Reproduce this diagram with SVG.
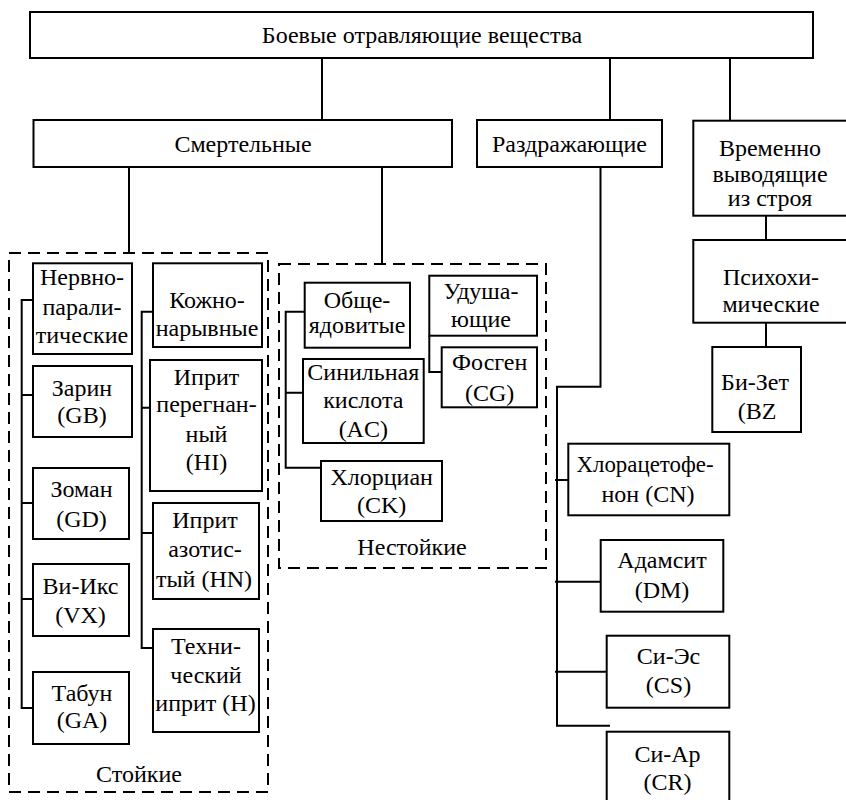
<svg xmlns="http://www.w3.org/2000/svg" width="846" height="800" viewBox="0 0 846 800" font-family="Liberation Serif, serif" font-size="24" text-anchor="middle">
<style>
.b{fill:#fff;stroke:#000;stroke-width:2}
.d{fill:none;stroke:#000;stroke-width:2;stroke-dasharray:12,7}
.c{fill:none;stroke:#000;stroke-width:2}
text{font-family:"Liberation Serif","Times New Roman",serif;fill:#000}
</style>
<rect width="846" height="800" fill="#fff"/>
<g id="groups">
<rect id="stoykie" class="d" x="9" y="253" width="259" height="539"/>
<text x="139" y="782">Стойкие</text>
<rect id="nestoykie" class="d" x="279" y="264" width="267" height="304"/>
<text x="412" y="555">Нестойкие</text>
</g>
<g id="connectors">
<path class="c" d="M322 58V120M610 58V120M730 58V120M129 167V253M382 167V264"/>
<path class="c" d="M600.5 167V386.7H557V725.7H610M555 480H568.3M555 581.7H600.7M555 671.7H606.7"/>
<path class="c" d="M766 215.7V240M766 322.7V347"/>
<path class="c" d="M33 300H21.7V708H33M21.7 395H33M21.7 503H33M21.7 599H33"/>
<path class="c" d="M153 311.7H141.7V648H153M141.7 407.7H150M141.7 533H153"/>
<path class="c" d="M304.7 311.7H285.7V467.7H321M285.7 392.7H303"/>
<path class="c" d="M429.3 335.7V372H441.7"/>
</g>
<g id="n-top"><rect class="b" x="30" y="12" width="783" height="46"/><text x="422" y="43">Боевые отравляющие вещества</text></g>
<g id="n-smert"><rect class="b" x="33.5" y="120" width="418.5" height="47"/><text x="243" y="152">Смертельные</text></g>
<g id="n-razdr"><rect class="b" x="477" y="120" width="185" height="47"/><text x="569.5" y="152">Раздражающие</text></g>
<g id="n-vrem"><rect class="b" x="693.3" y="120.7" width="154" height="95"/><text x="770" y="156">Временно</text><text x="770" y="181.5">выводящие</text><text x="770" y="206">из строя</text></g>
<g id="n-psih"><rect class="b" x="693.3" y="240" width="154" height="82.7"/><text x="771" y="285">Психохи-</text><text x="771" y="311.7">мические</text></g>
<g id="n-bz"><rect class="b" x="712.3" y="347" width="88.7" height="85"/><text x="755" y="390">Би-Зет</text><text x="757" y="419">(BZ</text></g>
<g id="n-nerv"><rect class="b" x="33" y="263.3" width="99" height="90.7"/><text x="82" y="285">Нервно-</text><text x="82" y="315">парали-</text><text x="82" y="343.3">тические</text></g>
<g id="n-zarin"><rect class="b" x="33" y="366" width="99" height="71"/><text x="82" y="395.7">Зарин</text><text x="82" y="423.3">(GB)</text></g>
<g id="n-zoman"><rect class="b" x="33" y="468" width="96" height="71"/><text x="81.5" y="496.7">Зоман</text><text x="81.5" y="526.7">(GD)</text></g>
<g id="n-vx"><rect class="b" x="33" y="564" width="96" height="72"/><text x="80.5" y="594.3">Ви-Икс</text><text x="80.5" y="623.3">(VX)</text></g>
<g id="n-tabun"><rect class="b" x="33" y="672" width="96" height="72"/><text x="82" y="701">Табун</text><text x="82" y="728.3">(GA)</text></g>
<g id="n-kozh"><rect class="b" x="153" y="263.3" width="109" height="83.7"/><text x="207" y="307.7">Кожно-</text><text x="207" y="336">нарывные</text></g>
<g id="n-hi"><rect class="b" x="150" y="360" width="112" height="131"/><text x="206.5" y="385">Иприт</text><text x="206.5" y="411.7">перегнан-</text><text x="206.5" y="441.7">ный</text><text x="206.5" y="470">(HI)</text></g>
<g id="n-hn"><rect class="b" x="153" y="503" width="106" height="96"/><text x="205" y="527.7">Иприт</text><text x="205" y="556.7">азотис-</text><text x="204" y="587.3">тый (HN)</text></g>
<g id="n-h"><rect class="b" x="153" y="629" width="106" height="103"/><text x="206" y="654.3">Техни-</text><text x="206" y="683.3">ческий</text><text x="205.5" y="710.7">иприт (H)</text></g>
<g id="n-obshe"><rect class="b" x="304.7" y="282.7" width="105.3" height="65"/><text x="357" y="308.3">Обще-</text><text x="357" y="333">ядовитые</text></g>
<g id="n-ac"><rect class="b" x="303" y="359" width="120.7" height="84"/><text x="363.3" y="380">Синильная</text><text x="363.3" y="408.3">кислота</text><text x="363.3" y="436.7">(AC)</text></g>
<g id="n-ck"><rect class="b" x="321" y="461" width="121" height="60"/><text x="381.7" y="485">Хлорциан</text><text x="381.7" y="513.3">(CK)</text></g>
<g id="n-udush"><rect class="b" x="429.3" y="275.7" width="107.7" height="60"/><text x="481" y="299">Удуша-</text><text x="481" y="327.3">ющие</text></g>
<g id="n-cg"><rect class="b" x="441.7" y="347.3" width="95.3" height="60"/><text x="489.7" y="370">Фосген</text><text x="489.7" y="400.7">(CG)</text></g>
<g id="n-cn"><rect class="b" x="568.3" y="443.7" width="161" height="71.6"/><text x="645" y="471.7" textLength="137" lengthAdjust="spacingAndGlyphs">Хлорацетофе-</text><text x="648" y="501.7">нон (CN)</text></g>
<g id="n-dm"><rect class="b" x="600.7" y="540" width="122.6" height="71.7"/><text x="662" y="568.3">Адамсит</text><text x="662" y="598.3">(DM)</text></g>
<g id="n-cs"><rect class="b" x="606.7" y="635.7" width="122.6" height="72"/><text x="668.5" y="664">Си-Эс</text><text x="668.5" y="693.3">(CS)</text></g>
<g id="n-cr"><rect class="b" x="606.7" y="731.7" width="122.6" height="72"/><text x="667.5" y="762">Си-Ар</text><text x="667.5" y="790">(CR)</text></g>
</svg>
